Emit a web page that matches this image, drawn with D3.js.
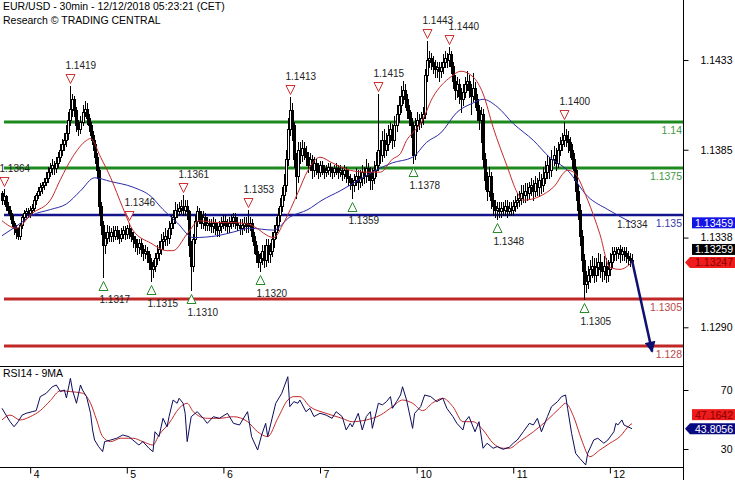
<!DOCTYPE html>
<html><head><meta charset="utf-8">
<script src="https://cdn.jsdelivr.net/npm/d3@7"></script>
<style>body{margin:0;background:#fff}svg{display:block}text{font-family:"Liberation Sans",Arial,sans-serif}</style>
</head><body><svg id="c" width="735" height="480"></svg>
<script>
// ---------------- DATA ----------------
const titleLine1 = "EUR/USD - 30min - 12/12/2018 05:23:21 (CET)";
const titleLine2 = "Research \u00A9 TRADING CENTRAL";
const rsiTitle = "RSI14 - 9MA";
const firstOpen = 1.1362;
const closes = [
1.1358,1.1360,1.1355,1.1353,1.1350,1.1346,1.1343,1.1341,1.1339,1.1345,
1.1349,1.1351,1.1352,1.1351,1.1353,1.1354,1.1358,1.1361,1.1363,1.1365,
1.1366,1.1368,1.1370,1.1373,1.1375,1.1377,1.1375,1.1378,1.1381,1.1385,
1.1388,1.1390,1.1394,1.1401,1.1407,1.1412,1.1406,1.1398,1.1396,1.1400,
1.1405,1.1407,1.1402,1.1398,1.1393,1.1388,1.1381,1.1374,1.1355,1.1345,
1.1334,1.1338,1.1341,1.1339,1.1341,1.1339,1.1342,1.1340,1.1338,1.1340,
1.1342,1.1340,1.1343,1.1341,1.1339,1.1337,1.1335,1.1333,1.1335,1.1332,
1.1330,1.1331,1.1329,1.1325,1.1321,1.1323,1.1327,1.1330,1.1332,1.1336,
1.1337,1.1339,1.1338,1.1343,1.1346,1.1349,1.1353,1.1352,1.1354,1.1355,
1.1353,1.1355,1.1352,1.1334,1.1323,1.1337,1.1347,1.1352,1.1350,1.1346,
1.1349,1.1345,1.1346,1.1345,1.1344,1.1346,1.1343,1.1342,1.1344,1.1346,
1.1347,1.1345,1.1344,1.1346,1.1347,1.1349,1.1346,1.1345,1.1343,1.1345,
1.1346,1.1344,1.1345,1.1346,1.1339,1.1334,1.1329,1.1325,1.1327,1.1331,
1.1326,1.1334,1.1329,1.1331,1.1337,1.1341,1.1345,1.1350,1.1355,1.1361,
1.1366,1.1380,1.1396,1.1406,1.1398,1.1380,1.1371,1.1385,1.1382,1.1386,
1.1384,1.1381,1.1377,1.1380,1.1374,1.1378,1.1375,1.1373,1.1377,1.1375,
1.1373,1.1374,1.1376,1.1374,1.1373,1.1375,1.1375,1.1373,1.1374,1.1372,
1.1374,1.1371,1.1370,1.1368,1.1366,1.1369,1.1371,1.1368,1.1370,1.1373,
1.1371,1.1375,1.1373,1.1369,1.1370,1.1374,1.1377,1.1385,1.1382,1.1390,
1.1385,1.1388,1.1393,1.1396,1.1390,1.1398,1.1404,1.1409,1.1414,1.1417,
1.1412,1.1406,1.1402,1.1398,1.1382,1.1398,1.1401,1.1400,1.1402,1.1404,
1.1425,1.1433,1.1434,1.1432,1.1430,1.1428,1.1429,1.1427,1.1429,1.1432,
1.1434,1.1433,1.1436,1.1430,1.1422,1.1417,1.1420,1.1414,1.1412,1.1416,
1.1420,1.1422,1.1417,1.1414,1.1418,1.1412,1.1406,1.1401,1.1404,1.1380,
1.1369,1.1363,1.1371,1.1358,1.1355,1.1353,1.1354,1.1352,1.1354,1.1353,
1.1355,1.1352,1.1354,1.1353,1.1355,1.1357,1.1358,1.1359,1.1362,1.1361,
1.1363,1.1362,1.1365,1.1366,1.1363,1.1367,1.1365,1.1369,1.1366,1.1370,
1.1373,1.1377,1.1374,1.1380,1.1382,1.1378,1.1385,1.1388,1.1390,1.1393,
1.1391,1.1389,1.1385,1.1380,1.1374,1.1363,1.1353,1.1339,1.1326,1.1313,
1.1315,1.1318,1.1321,1.1323,1.1318,1.1322,1.1325,1.1321,1.1320,1.1323,
1.1318,1.1321,1.1325,1.1329,1.1331,1.1330,1.1332,1.1329,1.1331,1.1330,
1.1328,1.1327,1.1326,1.13259];
const highs = [
1.1363,1.1364,1.1361,1.1357,1.1355,1.1351,1.1347,1.1345,1.1343,1.1346,
1.1350,1.1353,1.1354,1.1354,1.1355,1.1356,1.1360,1.1362,1.1365,1.1367,
1.1368,1.1370,1.1373,1.1376,1.1378,1.1380,1.1379,1.1381,1.1384,1.1388,
1.1391,1.1394,1.1398,1.1405,1.1419,1.1415,1.1414,1.1408,1.1401,1.1403,
1.1409,1.1411,1.1410,1.1404,1.1400,1.1395,1.1390,1.1383,1.1376,1.1357,
1.1347,1.1341,1.1345,1.1344,1.1343,1.1344,1.1344,1.1344,1.1342,1.1343,
1.1344,1.1344,1.1345,1.1346,1.1343,1.1341,1.1339,1.1337,1.1337,1.1337,
1.1334,1.1334,1.1333,1.1331,1.1327,1.1326,1.1330,1.1334,1.1336,1.1340,
1.1341,1.1343,1.1342,1.1347,1.1350,1.1353,1.1357,1.1356,1.1357,1.1358,
1.1361,1.1358,1.1358,1.1353,1.1336,1.1340,1.1350,1.1355,1.1354,1.1352,
1.1352,1.1351,1.1349,1.1348,1.1348,1.1349,1.1348,1.1346,1.1347,1.1349,
1.1350,1.1350,1.1348,1.1349,1.1350,1.1351,1.1351,1.1349,1.1348,1.1348,
1.1349,1.1349,1.1353,1.1349,1.1348,1.1341,1.1336,1.1331,1.1330,1.1334,
1.1334,1.1337,1.1337,1.1335,1.1341,1.1345,1.1349,1.1354,1.1359,1.1365,
1.1372,1.1385,1.1402,1.1413,1.1410,1.1400,1.1383,1.1389,1.1389,1.1390,
1.1389,1.1387,1.1384,1.1383,1.1382,1.1381,1.1380,1.1378,1.1379,1.1379,
1.1377,1.1377,1.1378,1.1378,1.1376,1.1377,1.1378,1.1377,1.1377,1.1376,
1.1377,1.1376,1.1374,1.1372,1.1370,1.1372,1.1375,1.1374,1.1374,1.1377,
1.1376,1.1380,1.1378,1.1376,1.1375,1.1379,1.1384,1.1415,1.1390,1.1395,
1.1396,1.1394,1.1398,1.1400,1.1399,1.1403,1.1409,1.1414,1.1419,1.1422,
1.1420,1.1415,1.1409,1.1405,1.1400,1.1402,1.1405,1.1404,1.1405,1.1408,
1.1428,1.1443,1.1438,1.1437,1.1435,1.1433,1.1432,1.1432,1.1432,1.1436,
1.1438,1.1437,1.1440,1.1438,1.1432,1.1425,1.1424,1.1423,1.1418,1.1420,
1.1424,1.1427,1.1425,1.1420,1.1426,1.1421,1.1415,1.1409,1.1408,1.1407,
1.1383,1.1373,1.1376,1.1373,1.1362,1.1358,1.1357,1.1357,1.1357,1.1357,
1.1358,1.1358,1.1357,1.1357,1.1358,1.1360,1.1362,1.1363,1.1366,1.1366,
1.1367,1.1367,1.1368,1.1370,1.1369,1.1371,1.1370,1.1373,1.1372,1.1376,
1.1379,1.1382,1.1381,1.1385,1.1387,1.1386,1.1389,1.1392,1.1394,1.1400,
1.1396,1.1395,1.1392,1.1388,1.1383,1.1376,1.1366,1.1356,1.1342,1.1329,
1.1320,1.1323,1.1326,1.1328,1.1327,1.1327,1.1330,1.1329,1.1325,1.1328,
1.1327,1.1326,1.1330,1.1333,1.1333,1.1333,1.1333,1.1334,1.1333,1.1333,
1.1333,1.1331,1.1330,1.1329];
const lows = [
1.1356,1.1356,1.1353,1.1351,1.1348,1.1344,1.1340,1.1338,1.1337,1.1337,
1.1343,1.1347,1.1349,1.1349,1.1349,1.1351,1.1352,1.1356,1.1359,1.1361,
1.1362,1.1364,1.1366,1.1368,1.1371,1.1372,1.1372,1.1373,1.1376,1.1379,
1.1382,1.1385,1.1387,1.1391,1.1398,1.1403,1.1403,1.1395,1.1393,1.1394,
1.1398,1.1403,1.1399,1.1395,1.1390,1.1385,1.1378,1.1370,1.1350,1.1340,
1.1317,1.1330,1.1335,1.1336,1.1336,1.1336,1.1337,1.1337,1.1335,1.1336,
1.1338,1.1337,1.1338,1.1338,1.1336,1.1333,1.1331,1.1329,1.1330,1.1328,
1.1326,1.1327,1.1325,1.1321,1.1315,1.1317,1.1320,1.1324,1.1326,1.1329,
1.1332,1.1334,1.1334,1.1335,1.1340,1.1343,1.1346,1.1349,1.1350,1.1351,
1.1350,1.1350,1.1348,1.1328,1.1310,1.1320,1.1335,1.1344,1.1346,1.1343,
1.1343,1.1342,1.1342,1.1342,1.1341,1.1341,1.1340,1.1339,1.1339,1.1341,
1.1343,1.1342,1.1341,1.1341,1.1343,1.1344,1.1343,1.1342,1.1340,1.1340,
1.1342,1.1341,1.1341,1.1342,1.1336,1.1330,1.1325,1.1322,1.1320,1.1324,
1.1322,1.1323,1.1325,1.1325,1.1328,1.1333,1.1338,1.1342,1.1347,1.1352,
1.1358,1.1363,1.1377,1.1393,1.1390,1.1376,1.1359,1.1368,1.1378,1.1379,
1.1380,1.1377,1.1373,1.1374,1.1370,1.1371,1.1372,1.1370,1.1371,1.1372,
1.1370,1.1371,1.1372,1.1371,1.1370,1.1371,1.1372,1.1370,1.1371,1.1369,
1.1370,1.1368,1.1366,1.1364,1.1359,1.1363,1.1366,1.1364,1.1365,1.1366,
1.1367,1.1368,1.1369,1.1364,1.1364,1.1367,1.1371,1.1374,1.1378,1.1379,
1.1381,1.1382,1.1385,1.1389,1.1386,1.1387,1.1395,1.1400,1.1405,1.1410,
1.1408,1.1402,1.1398,1.1392,1.1378,1.1380,1.1395,1.1396,1.1397,1.1399,
1.1402,1.1422,1.1429,1.1428,1.1426,1.1424,1.1424,1.1422,1.1424,1.1426,
1.1429,1.1429,1.1430,1.1426,1.1418,1.1412,1.1413,1.1410,1.1405,1.1409,
1.1413,1.1417,1.1413,1.1404,1.1411,1.1408,1.1401,1.1396,1.1389,1.1376,
1.1364,1.1358,1.1360,1.1354,1.1350,1.1349,1.1348,1.1349,1.1349,1.1350,
1.1350,1.1349,1.1350,1.1350,1.1350,1.1352,1.1354,1.1355,1.1356,1.1357,
1.1357,1.1358,1.1359,1.1361,1.1358,1.1360,1.1361,1.1360,1.1362,1.1363,
1.1367,1.1370,1.1370,1.1371,1.1377,1.1374,1.1376,1.1382,1.1385,1.1387,
1.1387,1.1384,1.1381,1.1375,1.1369,1.1358,1.1348,1.1334,1.1320,1.1305,
1.1309,1.1311,1.1314,1.1317,1.1314,1.1315,1.1318,1.1317,1.1315,1.1316,
1.1314,1.1315,1.1318,1.1322,1.1326,1.1326,1.1327,1.1325,1.1326,1.1326,
1.1325,1.1324,1.1323,1.1324];

// moving averages: [bar index, price]
const maFast = [[0,1.1347],[7,1.1343],[15,1.1351],[24,1.1358],[29,1.1369],[35,1.1381],[42,1.1390],[44,1.1391],[49,1.1381],[54,1.1370],[60,1.1354],[65,1.1342],[74,1.1335],[82,1.1331],[85,1.1331],[92,1.1340],[98,1.1347],[107,1.1346],[115,1.1346],[123,1.1345],[125,1.1344],[135,1.1338],[140,1.1346],[147,1.1362],[152,1.1374],[158,1.1381],[164,1.1378],[173,1.1374],[181,1.1373],[188,1.1373],[194,1.1380],[198,1.1383],[201,1.1390],[204,1.1394],[208,1.1399],[214,1.1413],[223,1.1424],[228,1.1427],[234,1.1424],[239,1.1415],[244,1.1397],[251,1.1376],[256,1.1362],[259,1.1358],[267,1.1360],[274,1.1365],[281,1.1374],[284,1.1373],[291,1.1358],[297,1.1340],[302,1.1322],[307,1.1321],[313,1.13247]];
const maSlow = [[0,1.1339],[7,1.1344],[15,1.1350],[24,1.1353],[32,1.1356],[39,1.1363],[46,1.1370],[54,1.1368],[65,1.1365],[74,1.1360],[80,1.1353],[87,1.1346],[95,1.1338],[107,1.1339],[115,1.1341],[123,1.1343],[135,1.1342],[143,1.1349],[152,1.1353],[159,1.1358],[168,1.1363],[176,1.1368],[184,1.1373],[194,1.1378],[204,1.1381],[211,1.1389],[218,1.1394],[226,1.1405],[234,1.1410],[239,1.1412],[246,1.1408],[254,1.1399],[264,1.1390],[272,1.1381],[281,1.1374],[291,1.1360],[301,1.1353],[313,1.13459]];

// RSI(14) and its 9-period MA: [bar index, value]
const rsiLine = [[0,57.6],[2,53],[4,48.5],[6,45.1],[8,48.5],[10,53],[12,54.2],[15,55.3],[17,56],[19,65.5],[22,67.8],[25,72.2],[27,73.4],[29,68.9],[31,70],[32,64.6],[34,77.9],[35,70],[37,61],[39,73.4],[40,70],[42,65.5],[44,54.2],[45,42.9],[46,36.1],[48,31.6],[50,28.2],[51,35],[54,36.1],[57,37.3],[60,39.5],[63,38.4],[65,36.1],[68,32.7],[70,35],[73,30.5],[75,28.2],[76,41.7],[78,38.4],[80,50.8],[82,45],[83,51.9],[85,63.2],[87,61],[88,64.4],[90,61],[91,54.2],[92,35],[94,51.9],[97,55.3],[100,50.8],[102,47.4],[105,51.9],[108,50.8],[112,54.2],[115,47.4],[118,46.3],[122,55.3],[124,38.4],[127,29.3],[129,39.5],[131,47.4],[132,38.4],[136,61],[139,67.8],[142,79],[143,58.7],[145,62.1],[147,61],[148,63.2],[151,55.3],[153,57.6],[155,52],[158,54.2],[161,53],[164,50.8],[166,55.3],[169,52],[171,42.9],[173,47.4],[174,45],[177,54.2],[179,42.9],[181,52],[183,55.3],[184,44],[187,61],[189,59.9],[191,62.1],[193,65.5],[194,57.6],[196,62.1],[198,66.6],[199,72.2],[201,63.2],[204,44],[205,54.2],[208,58.7],[210,66.6],[213,65.5],[216,62.1],[219,64.4],[221,57.6],[224,52],[226,47.4],[229,42.9],[230,48.5],[232,52],[235,41.7],[237,48.5],[239,30.5],[241,33.9],[244,30.5],[246,31.6],[249,29.8],[252,31.2],[254,33.9],[256,36.1],[259,41.7],[262,47.4],[264,46.3],[266,50.8],[268,41.7],[271,52],[273,58.7],[276,62.1],[278,65.5],[280,66.6],[281,57.6],[283,40.6],[285,27.1],[287,23.7],[290,19.2],[291,27.1],[294,36.1],[296,37.3],[299,33.9],[301,36.1],[304,41.7],[305,47.4],[306,46.3],[308,49.7],[309,46.3],[311,45],[313,43.8056]];
const rsiMA = [[0,49.7],[4,53],[9,49.7],[14,51.9],[19,56],[24,62.8],[29,69.5],[34,68.9],[40,67.8],[44,61],[47,49.7],[50,38.4],[54,35],[59,37.3],[65,37.3],[70,35],[75,32.7],[78,39.5],[83,47.4],[88,57.6],[92,61],[95,55.3],[102,50.8],[108,50.8],[115,51.9],[122,48.5],[127,41.7],[132,38.4],[137,50.8],[142,63.2],[145,65.5],[148,65.5],[153,58.7],[161,54.2],[169,50.8],[174,48.5],[181,49.7],[188,53],[194,58.7],[199,63.2],[204,61],[209,56],[214,61.3],[219,64.4],[224,58.7],[229,48.5],[234,48.5],[239,42.9],[244,33.9],[249,30.5],[252,30.5],[257,35],[264,41.7],[271,49.7],[277,57.6],[280,61],[284,51.9],[288,36.1],[292,24.8],[297,29.3],[302,33.9],[307,38.4],[312,46.3],[313,47.1642]];

const dayLabels = ["4","5","6","7","10","11","12"];
const dayStartBars = [14,62,110,158,206,254,302];
const priceTicks = [1.1433,1.1385,1.1338,1.1290];
const rsiTicks = [30,70];
const levelValues = [1.14,1.1375,1.135,1.1305,1.128];
const levelLabels = ["1.14","1.1375","1.135","1.1305","1.128"];
const levelKinds = ["res","res","pivot","sup","sup"];
const peakBars = [1,34,63,90,122,143,187,211,222,279];
const peakLabels = ["1.1364","1.1419","1.1346","1.1361","1.1353","1.1413","1.1415","1.1443","1.1440","1.1400"];
const troughBars = [50,74,94,128,174,204,246,289];
const troughLabels = ["1.1317","1.1315","1.1310","1.1320","1.1359","1.1378","1.1348","1.1305"];
const pendingPeakBar = 307, pendingPeakLabel = "1.1334";
const targetBar = 323, targetPrice = 1.1277;
const lastClose = 1.13259, lastFast = 1.13247, lastSlow = 1.13459;
const lastRsi = 43.8056, lastRsiMA = 47.1642;

// ---------------- CHART ----------------
const svg = d3.select("#c");
const AX = 683;
const x = d3.scaleLinear().domain([0, 313]).range([2, 632]);
const y = d3.scaleLinear().domain([1.128, 1.14]).range([346, 121.7]);
const ry = d3.scaleLinear().domain([30, 70]).range([449, 390]);
const FONT = "10.5px";

// level lines
const levelColor = {res:"#1e8a1e", pivot:"#14148c", sup:"#c02828"};
const levelText = {res:"#3f9a3f", pivot:"#3a3aa8", sup:"#b84a4a"};
const lv = svg.append("g");
levelValues.forEach((v,i)=>{
  const yy = Math.round(y(v));
  lv.append("line").attr("x1",4).attr("x2",AX).attr("y1",yy).attr("y2",yy)
    .attr("stroke",levelColor[levelKinds[i]]).attr("stroke-width",levelKinds[i]==="pivot"?2.5:3);
  lv.append("text").attr("x",AX-1).attr("y",yy+12).attr("text-anchor","end")
    .attr("font-size",FONT).attr("fill",levelText[levelKinds[i]]).text(levelLabels[i]);
});

// candlesticks
const bars = closes.map((c,i)=>({i, o: i? closes[i-1] : firstOpen, h: highs[i], l: lows[i], c}));
const cg = svg.append("g").selectAll("g").data(bars).join("g");
cg.append("path")
  .attr("d", d=>{ const cx = Math.round(x(d.i))+0.5;
    return `M${cx},${Math.round(y(d.h))}V${Math.round(y(d.l))+1}`; })
  .attr("stroke","#000").attr("stroke-width",1).attr("fill","none");
cg.append("rect")
  .attr("x", d=>Math.round(x(d.i))-0.5).attr("width",2)
  .attr("y", d=>Math.round(y(Math.max(d.o,d.c)))+0.5)
  .attr("height", d=>Math.max(1, Math.round(y(Math.min(d.o,d.c))) - Math.round(y(Math.max(d.o,d.c)))))
  .attr("fill", d=> d.c>=d.o ? "#fff" : "#000").attr("stroke","#000").attr("stroke-width",1);

// moving averages
const maLine = d3.line().x(d=>x(d[0])).y(d=>y(d[1])).curve(d3.curveMonotoneX);
svg.append("path").attr("d",maLine(maSlow)).attr("fill","none").attr("stroke","#2a2aa8").attr("stroke-width",1);
svg.append("path").attr("d",maLine(maFast)).attr("fill","none").attr("stroke","#c42a2a").attr("stroke-width",1);

// pivot markers
const mk = svg.append("g");
peakBars.forEach((b,k)=>{
  const cx = Math.round(x(b))+0.5, yy = y(highs[b]);
  const top = Math.round(yy-12)+0.5;
  mk.append("path").attr("d",`M${cx-4.5},${top}L${cx+4.5},${top}L${cx},${top+9}Z`)
    .attr("fill","#fff").attr("stroke","#d03030").attr("stroke-width",1);
  const nudge = peakLabels[k]==="1.1440" ? 4 : 0;
  mk.append("text").attr("x",cx-5+nudge).attr("y",yy-17).attr("font-size","10px").attr("fill","#222").text(peakLabels[k]);
});
troughBars.forEach((b,k)=>{
  const cx = Math.round(x(b))+0.5, yy = y(lows[b]);
  const top = Math.round(yy+4)+0.5;
  mk.append("path").attr("d",`M${cx},${top}L${cx+4.5},${top+9}L${cx-4.5},${top+9}Z`)
    .attr("fill","#fff").attr("stroke","#2a8a2a").attr("stroke-width",1);
  mk.append("text").attr("x",cx-4).attr("y",yy+26).attr("font-size","10px").attr("fill","#222").text(troughLabels[k]);
});
mk.append("text").attr("x",x(pendingPeakBar)-3).attr("y",y(highs[pendingPeakBar])-17)
  .attr("font-size","10px").attr("fill","#222").text(pendingPeakLabel);

// target arrow
const defs = svg.append("defs");
defs.append("marker").attr("id","ah").attr("viewBox","0 0 10 10").attr("refX",9).attr("refY",5)
  .attr("markerWidth",4.6).attr("markerHeight",4.4).attr("markerUnits","strokeWidth").attr("orient","auto")
  .append("path").attr("d","M0,0L10,5L0,10Z").attr("fill","#101070");
svg.append("line").attr("x1",x(313)).attr("y1",y(lastClose)).attr("x2",x(targetBar)).attr("y2",y(targetPrice))
  .attr("stroke","#101070").attr("stroke-width",2.5).attr("marker-end","url(#ah)");

// RSI panel
svg.append("path").attr("d",d3.line().x(d=>x(d[0])).y(d=>ry(d[1])).curve(d3.curveMonotoneX)(rsiMA)).attr("fill","none").attr("stroke","#c42a2a").attr("stroke-width",1);
svg.append("path").attr("d",d3.line().x(d=>x(d[0])).y(d=>ry(d[1]))(rsiLine)).attr("fill","none").attr("stroke","#0c0c5c").attr("stroke-width",1);

// frame
svg.append("line").attr("x1",AX+0.5).attr("x2",AX+0.5).attr("y1",0).attr("y2",480).attr("stroke","#000");
svg.append("line").attr("x1",0).attr("x2",AX).attr("y1",366.5).attr("y2",366.5).attr("stroke","#000");
svg.append("line").attr("x1",0).attr("x2",AX).attr("y1",467.5).attr("y2",467.5).attr("stroke","#000");

// price axis
const pa = svg.append("g").attr("transform",`translate(${AX+0.5},0)`)
  .call(d3.axisRight(y).tickValues(priceTicks).tickSize(5).tickPadding(44).tickFormat(d3.format(".4f")));
pa.select(".domain").remove();
pa.selectAll("text").attr("text-anchor","end").attr("font-size",FONT).attr("font-family","Liberation Sans, Arial").attr("fill","#000");
pa.selectAll("line").attr("stroke","#000");
const ra = svg.append("g").attr("transform",`translate(${AX+0.5},0)`)
  .call(d3.axisRight(ry).tickValues(rsiTicks).tickSize(5).tickPadding(44));
ra.select(".domain").remove();
ra.selectAll("text").attr("text-anchor","end").attr("font-size",FONT).attr("font-family","Liberation Sans, Arial").attr("fill","#000");

// time axis
const ta = svg.append("g").attr("transform","translate(0,467.5)")
  .call(d3.axisBottom(x).tickValues(dayStartBars).tickSize(6).tickFormat((d,i)=>dayLabels[i]));
ta.select(".domain").remove();
ta.selectAll(".tick line").attr("stroke","#000");
ta.selectAll("text").attr("text-anchor","start").attr("x",3).attr("y",3).attr("dy","0.71em")
  .attr("font-size",FONT).attr("font-family","Liberation Sans, Arial").attr("fill","#000");

// value boxes on the right
function box(cy, txt, bg, fg, arrow){
  const g = svg.append("g");
  const h = 11, x0 = arrow? 690 : 692;
  if(arrow){
    g.append("path").attr("d",`M${AX+2},${cy}L${x0},${cy-h/2}H735V${cy+h/2}H${x0}Z`).attr("fill",bg);
  } else {
    g.append("rect").attr("x",x0).attr("y",cy-h/2).attr("width",735-x0).attr("height",h).attr("fill",bg);
  }
  g.append("text").attr("x",733).attr("y",cy+4).attr("text-anchor","end").attr("font-size",FONT).attr("fill",fg).text(txt);
}
box(y(lastSlow), d3.format(".5f")(lastSlow), "#1414e6", "#fff", false);
box(y(lastFast)-13, d3.format(".5f")(lastClose), "#000", "#fff", false);
box(y(lastFast), d3.format(".5f")(lastFast), "#ee1c1c", "#8a0000", true);
box(ry(lastRsi)-14, d3.format(".4f")(lastRsiMA), "#ee1c1c", "#8a0000", false);
box(ry(lastRsi), d3.format(".4f")(lastRsi), "#0a0a80", "#fff", true);

// titles
svg.append("text").attr("x",3).attr("y",10).attr("font-size",FONT).attr("fill","#000").text(titleLine1);
svg.append("text").attr("x",3).attr("y",24).attr("font-size",FONT).attr("fill","#000").text(titleLine2);
svg.append("text").attr("x",3).attr("y",377).attr("font-size",FONT).attr("fill","#000").text(rsiTitle);
</script></body></html>
